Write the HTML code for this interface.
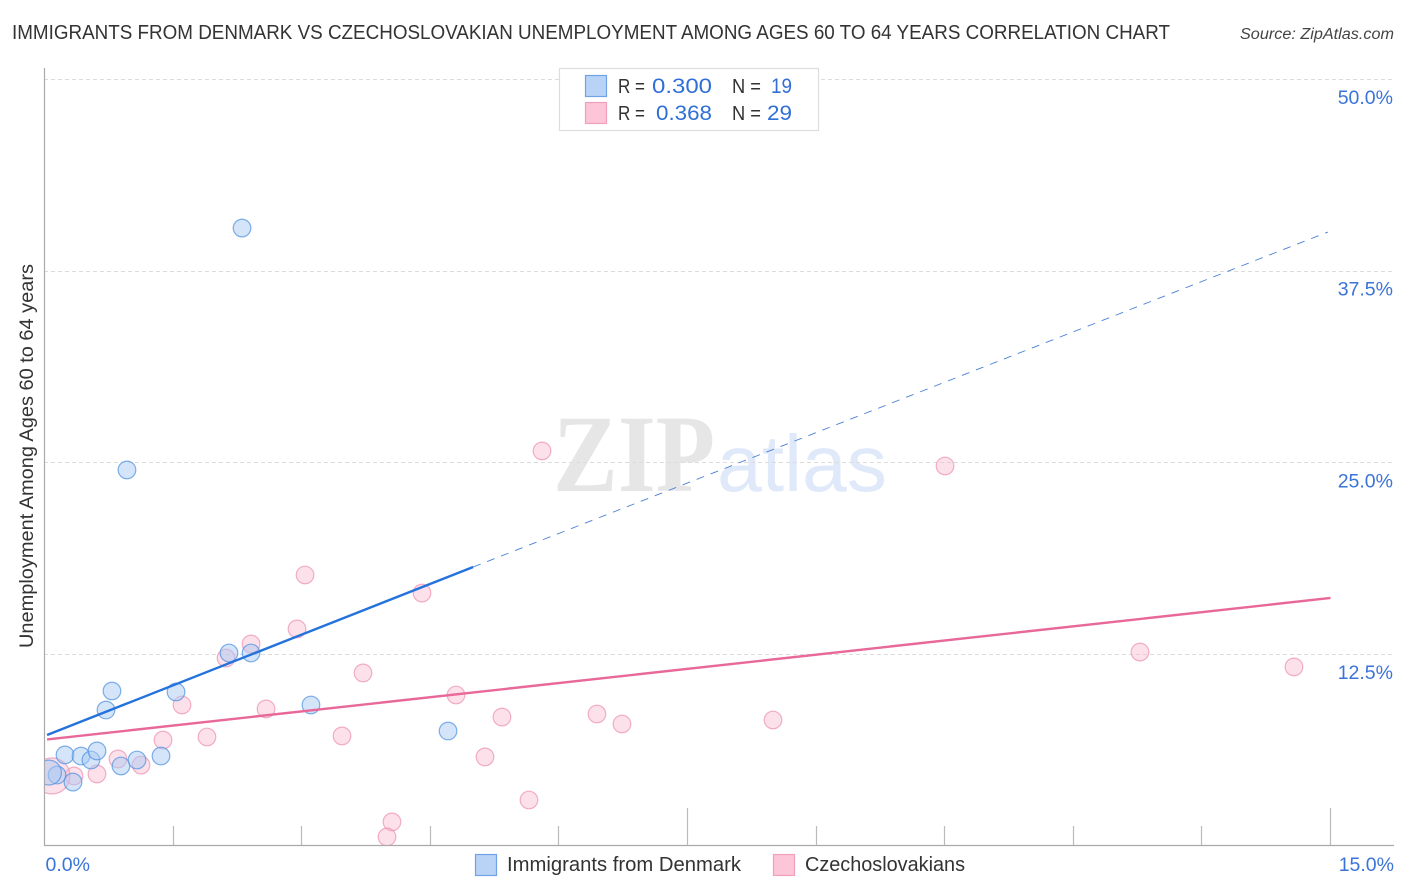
<!DOCTYPE html>
<html lang="en">
<head>
<meta charset="utf-8">
<title>Immigrants from Denmark vs Czechoslovakian Unemployment Chart</title>
<style>
html,body{margin:0;padding:0;background:#fff;width:1406px;height:892px;overflow:hidden}
svg{display:block;font-family:"Liberation Sans",Arial,sans-serif}
</style>
</head>
<body>
<svg id="chart" xmlns="http://www.w3.org/2000/svg" width="1406" height="892" viewBox="0 0 1406 892">
  <defs>
    <clipPath id="plot-clip"><rect x="45" y="60" width="1360" height="785"/></clipPath>
  </defs>
  <text x="12" y="39" font-size="20" fill="#333" textLength="1158" lengthAdjust="spacingAndGlyphs">IMMIGRANTS FROM DENMARK VS CZECHOSLOVAKIAN UNEMPLOYMENT AMONG AGES 60 TO 64 YEARS CORRELATION CHART</text>
  <text x="1394" y="39" font-size="15.5" font-style="italic" fill="#444" text-anchor="end" textLength="154" lengthAdjust="spacingAndGlyphs">Source: ZipAtlas.com</text>

  <g>
    <text x="553" y="491" font-family="'Liberation Serif',serif" font-weight="bold" font-size="110" fill="#e6e6e6" textLength="162" lengthAdjust="spacingAndGlyphs">ZIP</text>
    <text x="717" y="491" font-size="80" fill="#dfe9f9" textLength="170" lengthAdjust="spacingAndGlyphs">atlas</text>
  </g>

  <g id="grid"></g>
  <g id="axes"></g>
  <g id="ylabels"></g>
  <g id="xlabels"></g>
  <g id="points" clip-path="url(#plot-clip)"></g>
  <g id="trends"></g>

  <text transform="translate(33,456) rotate(-90)" font-size="19" fill="#333" text-anchor="middle" textLength="384" lengthAdjust="spacingAndGlyphs">Unemployment Among Ages 60 to 64 years</text>

  <g>
    <rect x="559.5" y="68.5" width="259" height="62" fill="#fff" stroke="#ddd" stroke-width="1.2"/>
    <rect x="585.5" y="75.5" width="21" height="21" fill="#b9d3f6" stroke="#6fa3e6" stroke-width="1.2"/>
    <rect x="585.5" y="102.5" width="21" height="21" fill="#fcc5d8" stroke="#f0a0bb" stroke-width="1.2"/>
    <text x="618" y="93" font-size="20" fill="#333" textLength="27" lengthAdjust="spacingAndGlyphs">R =</text>
    <text x="652" y="93" font-size="21" fill="#2f6fd6" textLength="60" lengthAdjust="spacingAndGlyphs">0.300</text>
    <text x="732" y="93" font-size="20" fill="#333" textLength="29" lengthAdjust="spacingAndGlyphs">N =</text>
    <text x="771" y="93" font-size="21" fill="#2f6fd6" textLength="21" lengthAdjust="spacingAndGlyphs">19</text>
    <text x="618" y="120" font-size="20" fill="#333" textLength="27" lengthAdjust="spacingAndGlyphs">R =</text>
    <text x="656" y="120" font-size="21" fill="#2f6fd6" textLength="56" lengthAdjust="spacingAndGlyphs">0.368</text>
    <text x="732" y="120" font-size="20" fill="#333" textLength="29" lengthAdjust="spacingAndGlyphs">N =</text>
    <text x="767" y="120" font-size="21" fill="#2f6fd6" textLength="25" lengthAdjust="spacingAndGlyphs">29</text>
  </g>

  <g>
    <g>
      <rect x="475.5" y="854.5" width="21" height="21" fill="#b9d3f6" stroke="#6fa3e6" stroke-width="1.2"/>
      <text x="507" y="871" font-size="20" fill="#333" textLength="234" lengthAdjust="spacingAndGlyphs">Immigrants from Denmark</text>
    </g>
    <g>
      <rect x="773.5" y="854.5" width="21" height="21" fill="#fcc5d8" stroke="#f0a0bb" stroke-width="1.2"/>
      <text x="805" y="871" font-size="20" fill="#333" textLength="160" lengthAdjust="spacingAndGlyphs">Czechoslovakians</text>
    </g>
  </g>
</svg>
<script>
// Chart data (percent values)
const yTickValues = [12.5, 25, 37.5, 50];
const yTickLabels = ["12.5%", "25.0%", "37.5%", "50.0%"];
const xTickValues = [0, 1.5, 3, 4.5, 6, 7.5, 9, 10.5, 12, 13.5, 15];
const xEdgeLabels = ["0.0%", "15.0%"];
const xEdgeValues = [0, 15];
const xMajorTickValues = [7.5, 15];

const denmarkX = [2.304, 0.962, 0.787, 0.717, 1.534, 2.152, 2.409, 3.108, 4.707, 0.239, 0.426, 0.542, 0.612, 0.892, 1.079, 1.359, 0.146, 0.332, 0.052];
const denmarkY = [40.31, 24.53, 10.11, 8.87, 10.05, 12.59, 12.59, 9.20, 7.50, 5.94, 5.87, 5.61, 6.20, 5.22, 5.61, 5.87, 4.63, 4.17, 4.79];
const denmarkWeight = [1, 1, 1, 1, 1, 1, 1, 1, 1, 1, 1, 1, 1, 1, 1, 1, 1, 1, 2];

const czechX = [5.803, 10.504, 3.039, 4.403, 2.945, 2.409, 2.117, 3.715, 12.778, 14.574, 4.800, 1.604, 2.584, 5.336, 6.444, 6.736, 8.497, 1.895, 3.470, 1.382, 5.138, 0.857, 1.126, 0.612, 0.344, 5.651, 4.053, 3.995, 0.087];
const czechY = [25.77, 24.79, 17.68, 16.50, 14.16, 13.18, 12.26, 11.29, 12.65, 11.68, 9.85, 9.20, 8.94, 8.41, 8.61, 7.96, 8.22, 7.11, 7.18, 6.91, 5.81, 5.68, 5.28, 4.70, 4.57, 3.00, 1.57, 0.59, 4.57];
const czechWeight = [1, 1, 1, 1, 1, 1, 1, 1, 1, 1, 1, 1, 1, 1, 1, 1, 1, 1, 1, 1, 1, 1, 1, 1, 1, 1, 1, 1, 4.2];

const denmarkTrendSolidX = [0.03, 5.0];
const denmarkTrendSolidY = [7.24, 18.2];
const denmarkTrendDashedX = [5.0, 14.97];
const denmarkTrendDashedY = [18.2, 40.05];
const czechTrendX = [0.03, 15.0];
const czechTrendY = [6.95, 16.18];

// Axis functions
const xScale = function (v) { return 44.5 + v / 15 * 1286; };
const yScale = function (v) { return 846 - v / 50 * 766.5; };
const radius = function (w) { return 8.8 * Math.sqrt(w); };

const NS = 'http://www.w3.org/2000/svg';
function make(parent, tag, attrs, text) {
  const el = document.createElementNS(NS, tag);
  Object.keys(attrs).forEach(function (k) { el.setAttribute(k, attrs[k]); });
  if (text !== undefined) el.textContent = text;
  document.getElementById(parent).appendChild(el);
  return el;
}

yTickValues.forEach(function (v, i) {
  const y = Math.floor(yScale(v)) + 0.5;
  const line = make('grid', 'line', {x1: 44, x2: 1393, y1: y, y2: y, stroke: '#dcdcdc', 'stroke-width': 1, 'stroke-dasharray': '4 3'});
  
  
  const label = make('ylabels', 'text', {x: 1393, y: yScale(v) + 24.5, 'font-size': 19.5, fill: '#3b74d8', 'text-anchor': 'end'}, yTickLabels[i]);
  
  
});

const yAxis = make('axes', 'line', {x1: 44.5, x2: 44.5, y1: 68, y2: 846, stroke: '#aaa', 'stroke-width': 1.2});


const xAxis = make('axes', 'line', {x1: 44, x2: 1394, y1: 845.5, y2: 845.5, stroke: '#aaa', 'stroke-width': 1.2});



xTickValues.slice(1).forEach(function (v) {
  const x = Math.floor(xScale(v)) + 0.5;
  const top = xMajorTickValues.indexOf(v) >= 0 ? 808 : 826;
  const tick = make('axes', 'line', {x1: x, x2: x, y1: top, y2: 845, stroke: '#bbb', 'stroke-width': 1.2});
  
  
});

xEdgeValues.forEach(function (v, i) {
  const isLast = i === xEdgeValues.length - 1;
  const label = make('xlabels', 'text', {x: isLast ? 1394 : xScale(v) + 1, y: 871, 'font-size': 19.5, fill: '#3b74d8', 'text-anchor': isLast ? 'end' : 'start'}, xEdgeLabels[i]);
  
  
});

czechX.forEach(function (v, i) {
  const c = make('points', 'circle', {cx: xScale(v), cy: yScale(czechY[i]), r: radius(czechWeight[i]), fill: '#f9b6cd', 'fill-opacity': 0.42, stroke: '#ec8fb0', 'stroke-opacity': 0.7, 'stroke-width': 1.2});
  
  
});
denmarkX.forEach(function (v, i) {
  const c = make('points', 'circle', {cx: xScale(v), cy: yScale(denmarkY[i]), r: radius(denmarkWeight[i]), fill: '#a9c9f3', 'fill-opacity': 0.5, stroke: '#4a8ee0', 'stroke-opacity': 0.7, 'stroke-width': 1.2});
  
  
});

const trendCzech = make('trends', 'line', {x1: xScale(czechTrendX[0]), y1: yScale(czechTrendY[0]), x2: xScale(czechTrendX[1]), y2: yScale(czechTrendY[1]), stroke: '#e8689a', 'stroke-width': 2.4});


const trendDashed = make('trends', 'line', {x1: xScale(denmarkTrendDashedX[0]), y1: yScale(denmarkTrendDashedY[0]), x2: xScale(denmarkTrendDashedX[1]), y2: yScale(denmarkTrendDashedY[1]), stroke: '#4a80d8', 'stroke-width': 0.9, 'stroke-dasharray': '8 7'});


const trendSolid = make('trends', 'line', {x1: xScale(denmarkTrendSolidX[0]), y1: yScale(denmarkTrendSolidY[0]), x2: xScale(denmarkTrendSolidX[1]), y2: yScale(denmarkTrendSolidY[1]), stroke: '#2472dc', 'stroke-width': 2.4});


</script>
</body>
</html>
